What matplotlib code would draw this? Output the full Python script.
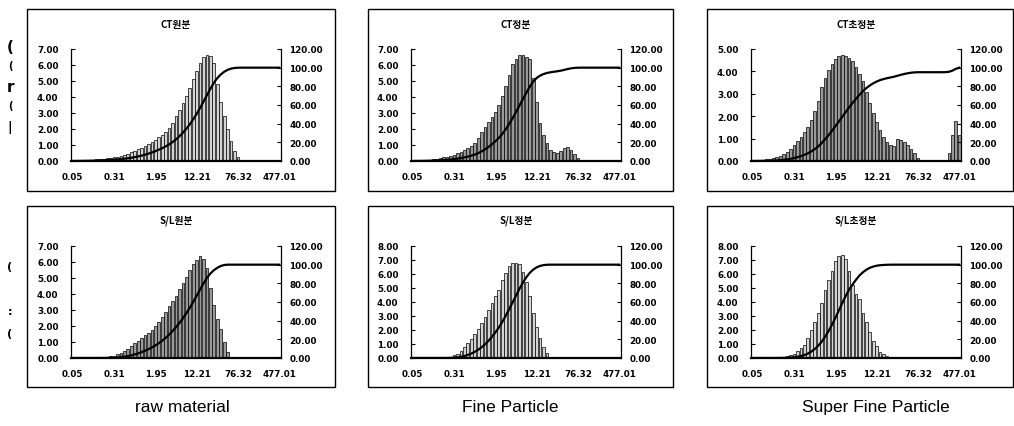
import numpy as np
import matplotlib
matplotlib.use("Agg")
import matplotlib.pyplot as plt
from matplotlib.patches import Rectangle

plt.rcParams['font.family'] = ['DejaVu Sans']

# size classes (um), one bar per class; tick label every 12th class
xtick_labels = ['0.05', '0.31', '1.95', '12.21', '76.32', '477.01']
n_class = 61

# frequency (%) per size class
ct_raw = [0.02, 0.03, 0.04, 0.05, 0.06, 0.07, 0.08, 0.10, 0.12, 0.14,
          0.17, 0.20, 0.24, 0.28, 0.33, 0.39, 0.46, 0.54, 0.63, 0.73,
          0.84, 0.96, 1.08, 1.20, 1.33, 1.47, 1.62, 1.80, 2.05, 2.40,
          2.80, 3.20, 3.60, 4.05, 4.55, 5.10, 5.65, 6.15, 6.50, 6.65,
          6.55, 6.10, 4.80, 3.70, 2.80, 2.00, 1.25, 0.62, 0.28, 0.06,
          0, 0, 0, 0, 0, 0, 0, 0, 0, 0, 0]
ct_fine = [0.02, 0.03, 0.04, 0.05, 0.07, 0.09, 0.11, 0.14, 0.18, 0.22,
           0.27, 0.33, 0.40, 0.48, 0.57, 0.68, 0.80, 0.95, 1.15, 1.45,
           1.80, 2.10, 2.45, 2.75, 3.05, 3.50, 4.05, 4.70, 5.40, 6.05,
           6.40, 6.60, 6.62, 6.50, 6.35, 5.20, 3.70, 2.40, 1.60, 1.10,
           0.70, 0.55, 0.50, 0.60, 0.80, 0.90, 0.70, 0.45, 0.20, 0.05,
           0, 0, 0, 0, 0, 0, 0, 0, 0, 0, 0]
ct_super = [0.02, 0.03, 0.04, 0.06, 0.08, 0.10, 0.13, 0.18, 0.24, 0.32,
            0.42, 0.55, 0.70, 0.88, 1.07, 1.28, 1.50, 1.85, 2.25, 2.70,
            3.30, 3.70, 4.05, 4.35, 4.55, 4.68, 4.72, 4.70, 4.60, 4.45,
            4.20, 3.90, 3.55, 3.10, 2.60, 2.15, 1.75, 1.40, 1.05, 0.85,
            0.72, 0.68, 1.00, 0.92, 0.85, 0.72, 0.55, 0.35, 0.12, 0.03,
            0, 0, 0, 0, 0, 0, 0.05, 0.35, 1.15, 1.80, 1.15]
sl_raw = [0, 0, 0, 0, 0, 0, 0, 0, 0.01, 0.03,
          0.06, 0.10, 0.15, 0.22, 0.32, 0.44, 0.58, 0.75, 0.92, 1.08,
          1.25, 1.42, 1.58, 1.76, 1.98, 2.25, 2.55, 2.90, 3.25, 3.55,
          3.90, 4.30, 4.70, 5.05, 5.50, 5.90, 6.15, 6.35, 6.20, 5.60,
          4.40, 3.30, 2.45, 1.80, 1.00, 0.35, 0, 0, 0, 0,
          0, 0, 0, 0, 0, 0, 0, 0, 0, 0, 0]
sl_fine = [0, 0, 0, 0, 0, 0, 0, 0, 0, 0.01,
           0.03, 0.08, 0.18, 0.32, 0.52, 0.80, 1.08, 1.38, 1.70, 2.05,
           2.50, 2.95, 3.45, 3.95, 4.40, 4.85, 5.55, 6.10, 6.55, 6.78,
           6.80, 6.72, 6.15, 5.40, 4.40, 3.20, 2.25, 1.45, 0.80, 0.35,
           0.08, 0, 0, 0, 0, 0, 0, 0, 0, 0,
           0, 0, 0, 0, 0, 0, 0, 0, 0, 0, 0]
sl_super = [0, 0, 0, 0, 0, 0, 0, 0.02, 0.04, 0.07,
            0.12, 0.20, 0.32, 0.48, 0.68, 0.95, 1.40, 2.00, 2.55, 3.20,
            3.95, 4.85, 5.60, 6.25, 6.90, 7.30, 7.35, 7.10, 6.25, 5.20,
            4.60, 4.20, 3.20, 2.55, 1.85, 1.25, 0.88, 0.45, 0.28, 0.16,
            0.08, 0.03, 0, 0, 0, 0, 0, 0, 0, 0,
            0, 0, 0, 0, 0, 0, 0, 0, 0, 0, 0]

titles = ['CT원분', 'CT정분', 'CT초정분', 'S/L원분', 'S/L정분', 'S/L초정분']
series = [ct_raw, ct_fine, ct_super, sl_raw, sl_fine, sl_super]
left_max = [7, 7, 5, 7, 8, 8]
bar_shade = ['#d4d4d4', '#9a9a9a', '#9a9a9a', '#9a9a9a', '#d4d4d4', '#d4d4d4']
col_captions = ['raw material', 'Fine Particle', 'Super Fine Particle']

W, H = 1014, 427
fig = plt.figure(figsize=(W / 100, H / 100), dpi=100)

def fx(px):
    return px / W

def fy(py):
    return 1 - py / H

plot_x = [71, 411, 751]
plot_y = [(50, 162), (247, 359)]
box_x = [(27, 335), (368, 673), (707, 1013)]
box_y = [(10, 192), (207, 388)]
title_y = [25, 221]

tick_font = dict(fontsize=6.3, fontweight='bold')

for k in range(6):
    r, c = divmod(k, 3)
    x0 = plot_x[c]
    y_top, y_bot = plot_y[r]
    # panel frame
    bx0, bx1 = box_x[c]
    by0, by1 = box_y[r]
    fig.patches.append(Rectangle((fx(bx0), fy(by1)), fx(bx1 - bx0), (by1 - by0) / H,
                                 transform=fig.transFigure, fill=False,
                                 edgecolor='black', linewidth=1.0))

    ax = fig.add_axes([fx(x0), fy(y_bot), fx(210), (y_bot - y_top) / H])
    vals = np.array(series[k])
    idx = np.arange(n_class)
    ax.bar(idx, vals, width=0.8, color=bar_shade[k], edgecolor='black',
           linewidth=0.5, zorder=2)
    ax.set_xlim(-0.5, n_class - 0.5)
    ax.set_ylim(0, left_max[k])
    ax.set_yticks(np.arange(0, left_max[k] + 0.5, 1))
    ax.set_yticklabels(['%.2f' % v for v in np.arange(0, left_max[k] + 0.5, 1)], **tick_font)
    ax.set_xticks(idx[::12])
    ax.set_xticklabels(xtick_labels, **tick_font)
    ax.tick_params(axis='y', direction='in', length=3, width=0.8, pad=9)
    ax.tick_params(axis='x', length=0, pad=8)
    ax.spines['top'].set_visible(False)
    ax.spines['right'].set_visible(False)
    ax.spines['left'].set_linewidth(0.9)
    ax.spines['bottom'].set_linewidth(1.6)

    # cumulative passing (%) on the secondary axis
    cum = np.cumsum(vals) / vals.sum() * 100
    ax2 = ax.twinx()
    ax2.plot(idx, cum, color='black', linewidth=1.6, zorder=3)
    ax2.set_ylim(0, 120)
    ax2.set_yticks(np.arange(0, 121, 20))
    ax2.set_yticklabels(['%.2f' % v for v in np.arange(0, 121, 20)], **tick_font)
    ax2.tick_params(axis='y', direction='in', length=3, width=0.8, pad=6)
    ax2.spines['top'].set_visible(False)
    ax2.spines['left'].set_visible(False)
    ax2.spines['bottom'].set_visible(False)
    ax2.spines['right'].set_linewidth(0.9)

    fig.text(fx(x0 + 105), fy(title_y[r]), titles[k], ha='center', va='center',
             fontsize=7, fontweight='bold', family=['Noto Sans CJK KR', 'DejaVu Sans'])

for c, cap in enumerate(col_captions):
    fig.text(fx([182, 510, 876][c]), fy(408), cap, ha='center', va='center',
             fontsize=12.5, family=['Liberation Sans', 'DejaVu Sans'])

# clipped fragments of the row labels at the left edge
for ch, py, fs in [('(', 47, 11), ('(', 66, 7), ('r', 87, 11), ('(', 106, 7), ('|', 127, 9),
                   ('(', 267, 8), (':', 312, 8), ('(', 334, 8)]:
    fig.text(fx(10), fy(py), ch, ha='center', va='center', fontsize=fs, fontweight='bold')

fig.savefig('out.png', dpi=100)
